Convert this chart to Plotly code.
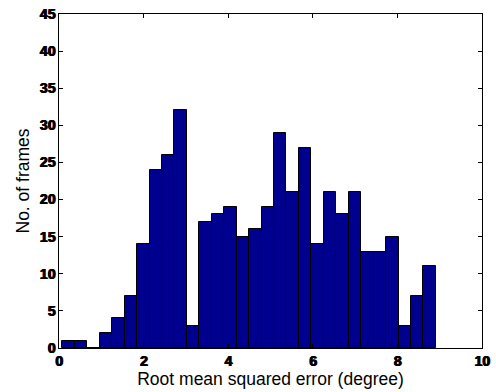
import numpy as np
import plotly.graph_objects as go

# Histogram of per-frame RMSE: 30 equal bins between the min and max error
rmse_min = 0.08
rmse_max = 8.91
n_bins = 30
frame_counts = [1, 1, 0, 2, 4, 7, 14, 24, 26, 32,
                3, 17, 18, 19, 15, 16, 19, 29, 21, 27,
                14, 21, 18, 21, 13, 13, 15, 3, 7, 11]

x_ticks = [0, 2, 4, 6, 8, 10]
y_ticks = [0, 5, 10, 15, 20, 25, 30, 35, 40, 45]

bin_width = (rmse_max - rmse_min) / n_bins
bin_centers = rmse_min + bin_width * (np.arange(n_bins) + 0.5)

FONT = "Liberation Sans"

fig = go.Figure(
    go.Bar(
        x=bin_centers,
        y=frame_counts,
        width=bin_width,
        marker=dict(color="#00008F", line=dict(color="black", width=1)),
    )
)

axis_common = dict(
    showgrid=False,
    zeroline=False,
    showline=True,
    linecolor="black",
    linewidth=1,
    mirror="ticks",
    ticks="inside",
    ticklen=4,
    tickcolor="black",
    automargin=False,
    tickfont=dict(family=FONT, size=14, color="black", weight=900,
                  shadow="1px 0px 0px black, 0px 0px 0.6px black"),
    title_font=dict(family=FONT, size=17.5, color="black"),
)

fig.update_xaxes(
    range=[0, 10],
    tickvals=x_ticks,
    title_text="Root mean squared error (degree)",
    title_standoff=0,
    **axis_common,
)
fig.update_yaxes(
    range=[0, 45],
    tickvals=y_ticks,
    title_text="No. of frames",
    title_standoff=5,
    **axis_common,
)

fig.update_layout(
    width=496,
    height=392,
    margin=dict(l=59, r=14, t=14, b=44),
    paper_bgcolor="white",
    plot_bgcolor="white",
    bargap=0,
    showlegend=False,
)

fig.write_html("out.html")
